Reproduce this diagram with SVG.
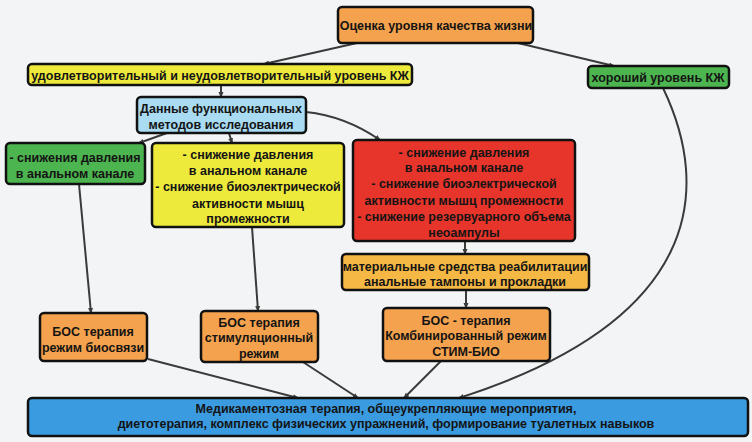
<svg xmlns="http://www.w3.org/2000/svg" width="752" height="442" viewBox="0 0 752 442">
<defs>
<marker id="ah" markerWidth="6" markerHeight="6" refX="5" refY="3" orient="auto" markerUnits="userSpaceOnUse">
<path d="M0,0.5 L6,3 L0,5.5 z" fill="#3a3a3a"/>
</marker>
<style>
.box{stroke:#111;stroke-width:2.5}
.t{font-family:"Liberation Sans",Arial,sans-serif;font-weight:bold;font-size:12.5px;fill:#141414;text-anchor:middle}
.c{fill:none;stroke:#3a3a3a;stroke-width:2;marker-end:url(#ah)}
</style>
</defs>
<rect width="752" height="442" fill="#f3f4f5"/>
<g id="connectors">
<path class="c" d="M357,43 L264,64"/>
<path class="c" d="M518,43 L614,66"/>
<path class="c" d="M221,85 L221,97"/>
<path class="c" d="M167,133 L139,143"/>
<path class="c" d="M229,133 L232,143"/>
<path class="c" d="M306,112 Q345,116 380,140"/>
<path class="c" d="M79,184 L91,313"/>
<path class="c" d="M252,227 L258,311"/>
<path class="c" d="M465,241 L465,254"/>
<path class="c" d="M466,290 L466,308"/>
<path class="c" d="M663,88 C712,190 702,320 459,398"/>
<path class="c" d="M148,359 L298,398"/>
<path class="c" d="M303,362 L358,398"/>
<path class="c" d="M441,361 L404,398"/>
</g>
<g id="n1"><rect class="box" x="338" y="7" width="195" height="36" rx="4" fill="#f4a24d"/><text class="t" x="436" y="29.5">Оценка уровня качества жизни</text></g>
<g id="n2"><rect class="box" x="28" y="64" width="384" height="21" rx="4" fill="#eeea3c"/><text class="t" x="220" y="79.5">удовлетворительный и неудовлетворительный уровень КЖ</text></g>
<g id="n3"><rect class="box" x="588" y="66" width="141" height="22" rx="4" fill="#4db54f"/><text class="t" x="658" y="81.5">хороший уровень КЖ</text></g>
<g id="n4"><rect class="box" x="137" y="97" width="169" height="36" rx="4" fill="#a9dbf2"/><text class="t" x="221" y="112.5">Данные функциональных</text><text class="t" x="221" y="129">методов исследования</text></g>
<g id="n5"><rect class="box" x="6" y="143" width="139" height="41" rx="4" fill="#4db54f"/><text class="t" x="75" y="161.5">- снижения давления</text><text class="t" x="75" y="177.5">в анальном канале</text></g>
<g id="n6"><rect class="box" x="152" y="143" width="192" height="84" rx="4" fill="#eeea3c"/>
<text class="t" x="248" y="158.5">-  снижение давления</text>
<text class="t" x="248" y="174.5">в анальном канале</text>
<text class="t" x="248" y="191">- снижение биоэлектрической</text>
<text class="t" x="248" y="207.5">активности мышц</text>
<text class="t" x="248" y="223">промежности</text></g>
<g id="n7"><rect class="box" x="353" y="140" width="222" height="101" rx="4" fill="#e8352b"/>
<text class="t" x="464" y="156.5">- снижение давления</text>
<text class="t" x="464" y="172">в анальном канале</text>
<text class="t" x="464" y="188">-  снижение биоэлектрической</text>
<text class="t" x="464" y="204.5">активности мышц промежности</text>
<text class="t" x="464" y="220.5">-  снижение резервуарного объема</text>
<text class="t" x="464" y="237">неоампулы</text></g>
<g id="n8"><rect class="box" x="342" y="254" width="247" height="36" rx="4" fill="#f5b845"/><text class="t" x="465" y="270.5">материальные средства реабилитации</text><text class="t" x="465" y="285.5">анальные тампоны и прокладки</text></g>
<g id="n9"><rect class="box" x="40" y="313" width="107" height="48" rx="4" fill="#f4a24d"/><text class="t" x="93" y="335.5">БОС терапия</text><text class="t" x="93" y="351.5">режим биосвязи</text></g>
<g id="n10"><rect class="box" x="201" y="311" width="117" height="51" rx="4" fill="#f4a24d"/><text class="t" x="259" y="326.5">БОС терапия</text><text class="t" x="259" y="341.5">стимуляционный</text><text class="t" x="259" y="357.5">режим</text></g>
<g id="n11"><rect class="box" x="383" y="308" width="167" height="53" rx="4" fill="#f4a24d"/><text class="t" x="466" y="324.5">БОС - терапия</text><text class="t" x="466" y="339.5">Комбинированный режим</text><text class="t" x="466" y="355.5">СТИМ-БИО</text></g>
<g id="n12"><rect class="box" x="28" y="398" width="720" height="38" rx="4" fill="#3b9be0"/><text class="t" x="386" y="412.5">Медикаментозная терапия, общеукрепляющие мероприятия,</text><text class="t" x="386" y="427.5">диетотерапия, комплекс физических упражнений, формирование туалетных навыков</text></g>
</svg>
